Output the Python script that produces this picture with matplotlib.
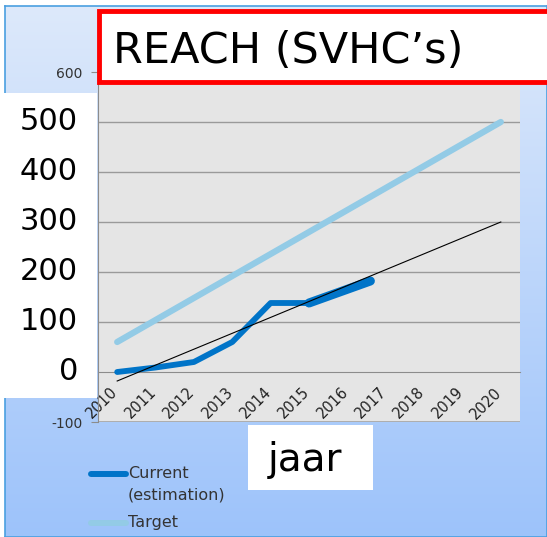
import numpy as np
import matplotlib
matplotlib.use("Agg")
import matplotlib.pyplot as plt
from matplotlib.patches import Rectangle
from matplotlib.lines import Line2D
import matplotlib.transforms as mtransforms

# data
years = list(range(2010, 2021))
year_labels = [str(y) for y in years]

current_years = [2010, 2011, 2012, 2013, 2014, 2015]
current = [0, 9, 20, 60, 138, 138]

estimate_years = [2015, 2016.6]
estimate = [138, 182]

target_years = [2010, 2020]
target = [60, 500]

trend_years = [2010, 2020]
trend = [-18, 300]

big_ticks = [0, 100, 200, 300, 400, 500]
small_ticks = [-100, 600]

W, H = 547, 537
fig = plt.figure(figsize=(W / 100, H / 100), dpi=100)
fig.patch.set_facecolor("white")

def fx(px):
    return px / W

def fy(py):
    return 1 - py / H

# blue gradient background with thin border
bg = fig.add_axes([fx(5), 0, 1 - fx(5), fy(6)])
grad = np.linspace(0, 1, 256).reshape(-1, 1)
cmap = matplotlib.colors.LinearSegmentedColormap.from_list("bg", ["#dde9fb", "#9dc3fa"])
bg.imshow(grad, aspect="auto", cmap=cmap, extent=[0, 1, 0, 1], origin="upper")
bg.set_xticks([])
bg.set_yticks([])
for s in bg.spines.values():
    s.set_color("#4a9fe0")
    s.set_linewidth(1.2)
bg.set_zorder(-5)

# main plot
ax = fig.add_axes([fx(98), fy(422), fx(520) - fx(98), fy(72) - fy(422)])
ax.set_facecolor("#e5e5e5")
ax.set_xlim(2009.5, 2020.5)
ax.set_ylim(-100, 600)

for v in big_ticks[1:]:
    ax.axhline(v, color="#9a9a9a", lw=1, zorder=1)

ax.plot(trend_years, trend, color="black", lw=0.8, zorder=4)
ax.plot(target_years, target, color="#93cbe6", lw=4.5, solid_capstyle="round", zorder=3)
ax.plot(current_years, current, color="#0074c8", lw=4.2, solid_capstyle="round", zorder=3)
ax.plot(estimate_years, estimate, color="#0074c8", lw=6.5, solid_capstyle="round", zorder=3)

ax.spines["top"].set_visible(False)
ax.spines["right"].set_visible(False)
ax.spines["left"].set_color("#8c8c8c")
ax.spines["bottom"].set_position(("data", 0))
ax.spines["bottom"].set_color("#8c8c8c")
ax.axhline(-100, color="#a8a8a8", lw=2, zorder=2)

# small labels only where the pasted box does not cover them
ax.set_yticks(small_ticks)
ax.set_yticklabels([str(v) for v in small_ticks], fontsize=10, color="#333333")
ax.tick_params(axis="y", length=5, pad=6, color="#8c8c8c")

ax.set_xticks(years)
ax.set_xticklabels(year_labels, fontsize=10.5, rotation=45, ha="right", va="top",
                   rotation_mode="anchor", color="#222222")
ax.tick_params(axis="x", length=0, pad=9)
shift = mtransforms.ScaledTranslation(-0.07, 0, fig.dpi_scale_trans)
for lab in ax.get_xticklabels():
    lab.set_transform(lab.get_transform() + shift)

# legend, drawn by hand so the line sits on the first text row
leg_blue = "#0074c8"
leg_light = "#93cbe6"
fig.add_artist(Line2D([fx(91), fx(126)], [fy(474), fy(474)], transform=fig.transFigure,
                      color=leg_blue, lw=4.3, solid_capstyle="round"))
fig.add_artist(Line2D([fx(91), fx(126)], [fy(523), fy(523)], transform=fig.transFigure,
                      color=leg_light, lw=4.3, solid_capstyle="round"))
fig.text(fx(128), fy(474), "Current", ha="left", va="center", fontsize=11.5, color="#333333")
fig.text(fx(128), fy(495), "(estimation)", ha="left", va="center", fontsize=11.5, color="#333333")
fig.text(fx(128), fy(523), "Target", ha="left", va="center", fontsize=11.5, color="#333333")

# white boxes pasted over the chart
fig.add_artist(Rectangle((0, fy(398)), fx(97), fy(93) - fy(398),
                         transform=fig.transFigure, facecolor="white", edgecolor="none", zorder=2))
blend = mtransforms.blended_transform_factory(fig.transFigure, ax.transData)
for v in big_ticks:
    fig.text(fx(78), v, str(v), transform=blend, ha="right", va="center", fontsize=22, zorder=3)

fig.add_artist(Rectangle((fx(99), fy(82)), 1 - fx(99) + 0.05, fy(11) - fy(82),
                         transform=fig.transFigure, facecolor="white", edgecolor="#ff0000",
                         linewidth=3.5, zorder=2))
fig.text(fx(113), fy(63), "REACH (SVHC\u2019s)", ha="left", va="baseline", fontsize=31, zorder=3)

fig.add_artist(Rectangle((fx(248), fy(490)), fx(373) - fx(248), fy(425) - fy(490),
                         transform=fig.transFigure, facecolor="white", edgecolor="none", zorder=2))
fig.text(fx(305), fy(460), "jaar", ha="center", va="center", fontsize=28, zorder=3)

fig.savefig("out.png", dpi=100)
